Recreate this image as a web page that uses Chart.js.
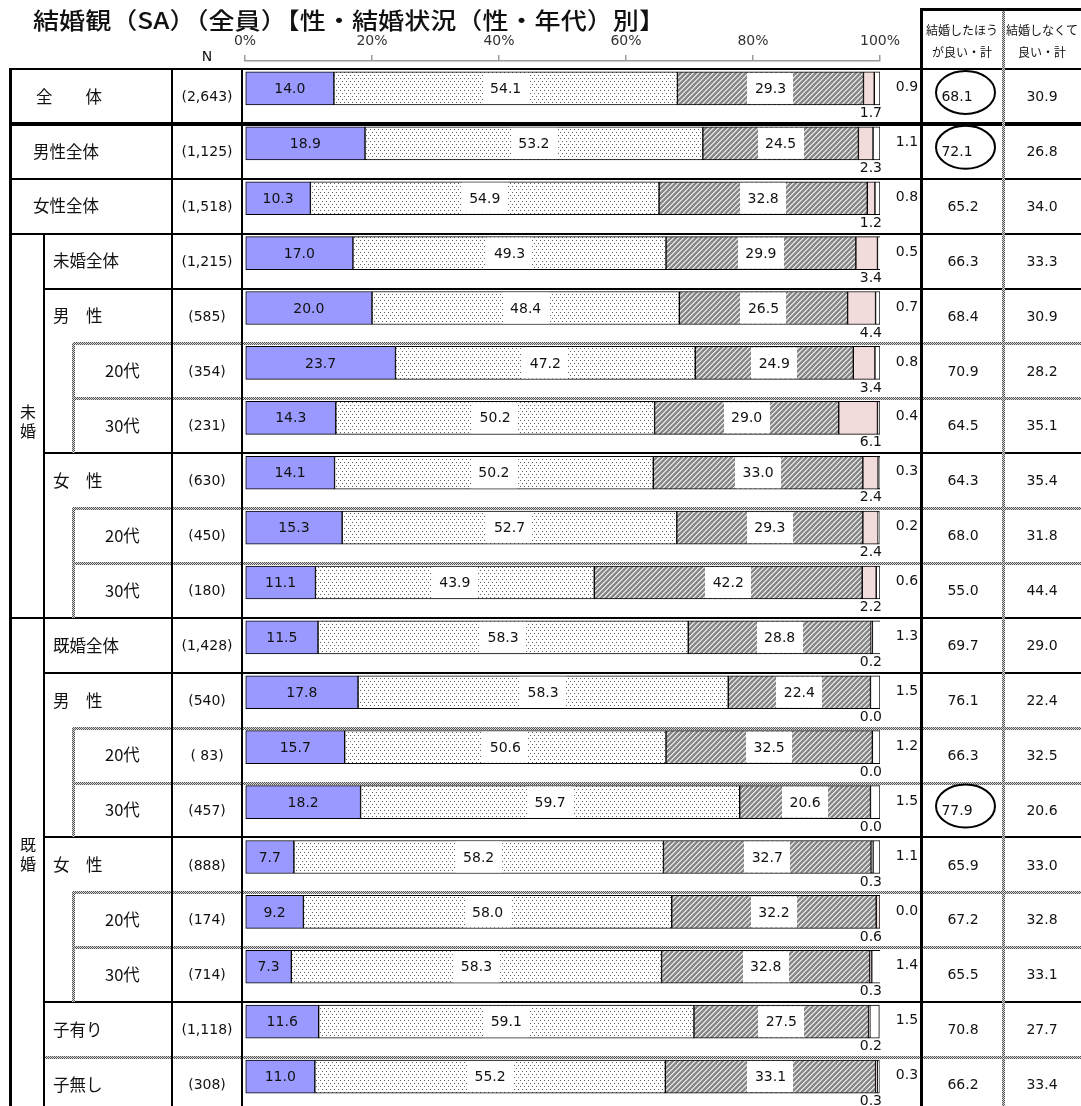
<!DOCTYPE html>
<html><head><meta charset="utf-8">
<script src="https://cdn.jsdelivr.net/npm/chart.js@4/dist/chart.umd.min.js"></script>
<style>html,body{margin:0;padding:0;background:#fff;overflow:hidden}#wrap{width:1081px;height:1106px;position:relative}</style>
</head><body><div id="wrap"><canvas id="c" width="1081" height="1106"></canvas></div>
<script>
const title = '結婚観（SA）（全員）【性・結婚状況（性・年代）別】';
const categories = ['全　　体','男性全体','女性全体','未婚全体','男　性','20代','30代','女　性','20代','30代','既婚全体','男　性','20代','30代','女　性','20代','30代','子有り','子無し'];
const nLabels = ['(2,643)','(1,125)','(1,518)','(1,215)','(585)','(354)','(231)','(630)','(450)','(180)','(1,428)','(540)','( 83)','(457)','(888)','(174)','(714)','(1,118)','(308)'];
const seriesNames = ['結婚したほうが良い','どちらかといえば結婚したほうが良い','どちらかといえば結婚しなくても良い','結婚しなくても良い','無回答'];
const s1 = [14.0,18.9,10.3,17.0,20.0,23.7,14.3,14.1,15.3,11.1,11.5,17.8,15.7,18.2,7.7,9.2,7.3,11.6,11.0];
const s2 = [54.1,53.2,54.9,49.3,48.4,47.2,50.2,50.2,52.7,43.9,58.3,58.3,50.6,59.7,58.2,58.0,58.3,59.1,55.2];
const s3 = [29.3,24.5,32.8,29.9,26.5,24.9,29.0,33.0,29.3,42.2,28.8,22.4,32.5,20.6,32.7,32.2,32.8,27.5,33.1];
const s4 = [1.7,2.3,1.2,3.4,4.4,3.4,6.1,2.4,2.4,2.2,0.2,0.0,0.0,0.0,0.3,0.6,0.3,0.2,0.3];
const s5 = [0.9,1.1,0.8,0.5,0.7,0.8,0.4,0.3,0.2,0.6,1.3,1.5,1.2,1.5,1.1,0.0,1.4,1.5,0.3];
const sumMarry = [68.1,72.1,65.2,66.3,68.4,70.9,64.5,64.3,68.0,55.0,69.7,76.1,66.3,77.9,65.9,67.2,65.5,70.8,66.2];
const sumNot = [30.9,26.8,34.0,33.3,30.9,28.2,35.1,35.4,31.8,44.4,29.0,22.4,32.5,20.6,33.0,32.8,33.1,27.7,33.4];
const xTicks = [0,20,40,60,80,100];
const circled = [0,1,13];
const colHeaders = [['結婚したほう','が良い・計'],['結婚しなくて','良い・計']];
const nHeader = 'N';
const groupLabels = [{chars:['未','婚'], from:3, to:9}, {chars:['既','婚'], from:10, to:18}];

const canvas = document.getElementById('c');
const ctx0 = canvas.getContext('2d');
function tile(w, h, fn){ const c=document.createElement('canvas'); c.width=w; c.height=h; const g=c.getContext('2d'); fn(g); return ctx0.createPattern(c,'repeat'); }
const dotPat = tile(4,6,g=>{ g.fillStyle='#fff'; g.fillRect(0,0,4,6); g.fillStyle='#5e5e5e'; g.fillRect(0,0,1,1); g.fillRect(2,3,1,1); });
const hatchPat = tile(5,5,g=>{ for(let x=0;x<5;x++)for(let y=0;y<5;y++){ const d=(x+y)%5; g.fillStyle = d===0?'#e6e6e6':(d===1?'#cccccc':'#888888'); g.fillRect(x,y,1,1);} });
const grayLine = tile(2,2,g=>{ g.fillStyle='#d8d8d8'; g.fillRect(0,0,2,2); g.fillStyle='#555'; g.fillRect(0,0,1,1); g.fillRect(1,1,1,1); });

const lineSpec = ['b0','B0','b0','b0','b1','g2','g2','b1','g2','g2','b0','b1','g2','g2','b1','g2','g2','b1','g1'];
const labelLevel = [-1,0,0,1,1,2,2,1,2,2,1,1,2,2,1,2,2,1,1];
const innerSpans = [[5,7],[8,10],[12,14],[15,17]];
const CJK = '"Noto Sans CJK JP", "Noto Sans CJK SC", sans-serif';
const NUM = '"DejaVu Sans", Verdana, sans-serif';

const tablePlugin = {
  id:'table',
  afterDatasetsDraw(chart){
    const ctx = chart.ctx, xS = chart.scales.x;
    const meta = k => chart.getDatasetMeta(k).data;
    const x100 = xS.getPixelForValue(100);
    ctx.save();
    ctx.font = '14px ' + NUM; ctx.textBaseline = 'middle';
    for (let i=0;i<categories.length;i++){
      const b1 = meta(0)[i];
      ctx.fillStyle='#111'; ctx.textAlign='center';
      ctx.fillText(s1[i].toFixed(1), (b1.x+b1.base)/2, b1.y+1);
      [[1,s2],[2,s3]].forEach(([k,arr])=>{
        const b = meta(k)[i]; const cx=(b.x+b.base)/2;
        ctx.fillStyle='#fff'; ctx.fillRect(Math.round(cx-23), b.y-b.height/2+1, 46, b.height-2);
        ctx.fillStyle='#111'; ctx.fillText(arr[i].toFixed(1), cx, b.y+1);
      });
      const b4 = meta(3)[i];
      ctx.textAlign='right'; ctx.fillText(s4[i].toFixed(1), x100+2, b4.y+25);
      const b5 = meta(4)[i];
      ctx.textAlign='center'; ctx.fillText(s5[i].toFixed(1), x100+27, b5.y-1);
    }
    ctx.restore();
  },
  afterDraw(chart){
    const ctx = chart.ctx, yS = chart.scales.y;
    const n = categories.length;
    const h = yS.getPixelForValue(1) - yS.getPixelForValue(0);
    const rowTop = i => yS.getPixelForValue(0) + i*h - 19.5;
    const rowMid = i => rowTop(i) + h/2;
    const X = [10, 44, 73], XN=172, XB=242, XR=921, XR2=1003, XE=1081, H=chart.height;
    ctx.save();
    for (let i=0;i<n;i++){
      const sp = lineSpec[i], st = sp[0], x1 = X[+sp[1]], y = Math.round(rowTop(i));
      if (st==='g'){ ctx.fillStyle=grayLine; ctx.fillRect(x1, y-1, XE-x1, 3); }
      else { ctx.fillStyle='#000'; const w = st==='B'?4:2; ctx.fillRect(x1, y-w/2, XE-x1, w); }
    }
    const y0 = Math.round(rowTop(0)) - 1;
    ctx.fillStyle = grayLine;
    innerSpans.forEach(([a,b])=>{ ctx.fillRect(X[2]-1, Math.round(rowTop(a)), 3, Math.round(rowTop(b))-Math.round(rowTop(a))); });
    ctx.fillRect(XR2-1, 9, 3, H);
    ctx.fillStyle='#000';
    ctx.fillRect(X[0]-1, y0, 3, H);
    ctx.fillRect(X[1]-1, Math.round(rowTop(3))-1, 2, H);
    ctx.fillRect(XN-1, y0, 2, H);
    ctx.fillRect(XB-1, y0, 2, H);
    ctx.fillRect(XR-1, 8, 3, H);
    ctx.fillRect(XR-1, 8, XE-XR+1, 3);
    // title, stretched horizontally to the reference width
    ctx.fillStyle='#111'; ctx.textBaseline='middle'; ctx.textAlign='left';
    ctx.font = '500 23px ' + CJK;
    const tw = ctx.measureText(title).width;
    ctx.save(); ctx.translate(33, 20); ctx.scale(632/tw, 1); ctx.fillText(title, 0, 0); ctx.restore();
    ctx.textAlign='center'; ctx.font='14px ' + NUM; ctx.fillText(nHeader, (XN+XB)/2, 57);
    ctx.font='12px ' + CJK;
    colHeaders.forEach((lines,c)=>{ const cx = c===0?(XR+XR2)/2:(XR2+XE)/2; lines.forEach((t,j)=>ctx.fillText(t, cx, 30+j*22)); });
    ctx.font='16px ' + CJK;
    groupLabels.forEach((g,gi)=>{
      const mid = (rowTop(g.from)+rowTop(g.to+1))/2 - (gi===0?4:10);
      ctx.fillText(g.chars[0], 28, mid-9.5); ctx.fillText(g.chars[1], 28, mid+9.5);
    });
    const lx = [33, 53, 105];
    for (let i=0;i<n;i++){
      const y = rowMid(i);
      ctx.textAlign='left'; ctx.font='16.5px ' + CJK; ctx.fillStyle='#111';
      ctx.fillText(categories[i], labelLevel[i]<0?36:lx[labelLevel[i]], y);
      ctx.textAlign='center'; ctx.font='14px ' + NUM;
      ctx.fillText(nLabels[i], (XN+XB)/2, y+1);
      const isC = circled.includes(i);
      ctx.fillText(sumMarry[i].toFixed(1), isC?957:(XR+XR2)/2+1, y+1);
      ctx.fillText(sumNot[i].toFixed(1), (XR2+XE)/2, y+1);
      if (isC){ ctx.beginPath(); ctx.lineWidth=2; ctx.strokeStyle='#000'; ctx.ellipse(965.5, y-4, 29.5, 21.5, 0, 0, Math.PI*2); ctx.stroke(); }
    }
    ctx.restore();
  }
};

const fills = ['#9999ff', dotPat, hatchPat, '#f2dcdb', '#ffffff'];
const seriesData = [s1, s2, s3, s4, s5];
new Chart(canvas, {
  type:'bar',
  data:{ labels: categories, datasets: seriesData.map((d,k)=>({ label: seriesNames[k], data: d, backgroundColor: fills[k], borderColor:'#000', borderWidth:1, borderSkipped:false, barThickness:33 })) },
  options:{
    indexAxis:'y', responsive:false, animation:false, devicePixelRatio:1,
    layout:{ padding:{ left:245, right:201, top:31, bottom:2 } },
    plugins:{ legend:{display:false}, tooltip:{enabled:false} },
    scales:{
      x:{ position:'top', stacked:true, min:0, max:100,
          afterBuildTicks: s=>{ s.ticks = xTicks.map(v=>({value:v})); },
          afterFit: s=>{ s.height = 30; },
          ticks:{ callback:v=>v+'%', font:{family:'DejaVu Sans', size:14}, color:'#333', padding:5, maxRotation:0, autoSkip:false },
          grid:{ drawOnChartArea:false, drawTicks:true, tickLength:6, color:'#9a9a9a', lineWidth:1.5 },
          border:{ display:true, color:'#9a9a9a', width:1.5 } },
      y:{ stacked:true, display:false, offset:true }
    }
  },
  plugins:[tablePlugin]
});
</script></body></html>
